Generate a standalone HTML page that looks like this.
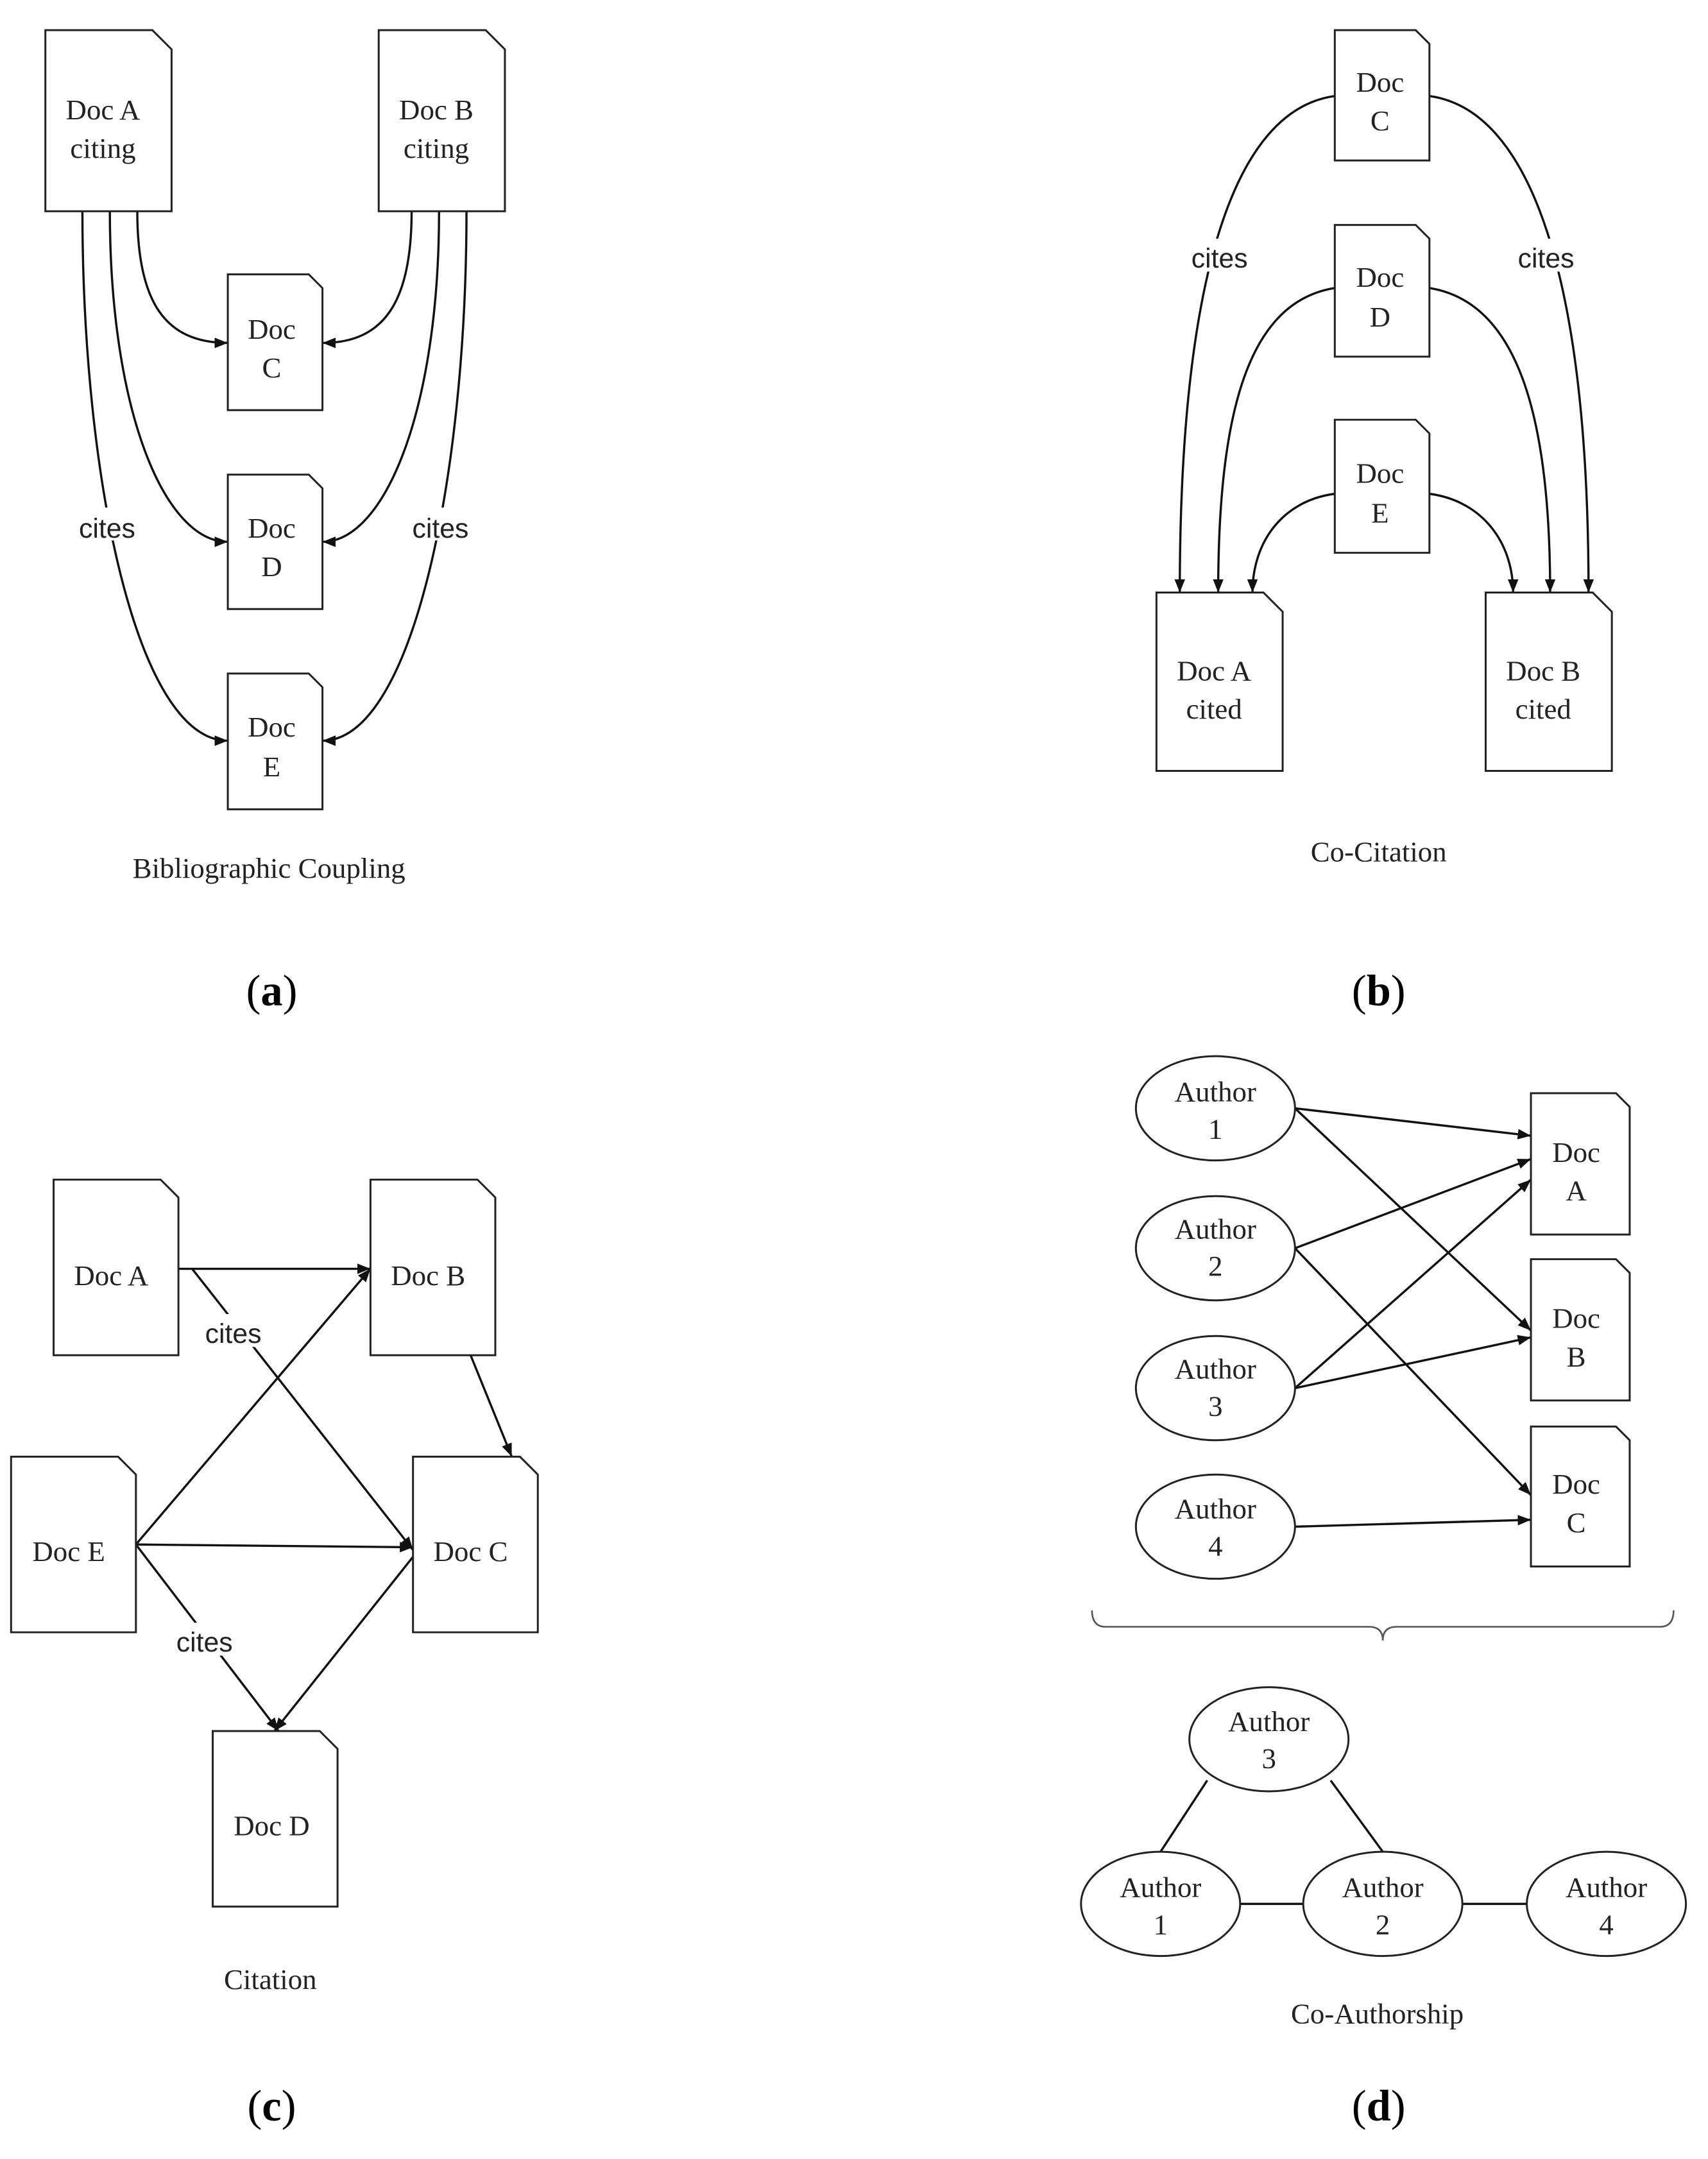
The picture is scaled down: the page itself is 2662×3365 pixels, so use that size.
<!DOCTYPE html>
<html><head><meta charset="utf-8"><style>
html,body{margin:0;padding:0;background:#fff;}
svg{display:block;}
.d{fill:#fff;stroke:#222;stroke-width:1.4;}
.l{fill:none;stroke:#111;stroke-width:1.6;}
.t{font-family:"Liberation Serif",serif;font-size:21px;fill:#222;text-anchor:middle;}
.s{font-family:"Liberation Sans",sans-serif;font-size:20px;fill:#222;text-anchor:middle;}
.c{font-family:"Liberation Serif",serif;font-size:32px;fill:#000;text-anchor:middle;}
</style></head><body>
<svg width="2662" height="3365" viewBox="0 0 1245 1574" xmlns="http://www.w3.org/2000/svg">
<defs><marker id="a" viewBox="0 0 10 10" refX="10" refY="5" markerWidth="6" markerHeight="6" orient="auto-start-reverse"><path d="M0,1 L10,5 L0,9 z" fill="#111"/></marker></defs>

<!-- (a) -->
<path class="l" marker-end="url(#a)" d="M100,154 C100,220 120,250 166,250"/>
<path class="l" marker-end="url(#a)" d="M80,154 C80,300 120,395 166,395"/>
<path class="l" marker-end="url(#a)" d="M60,154 C60,350 100,540 166,540"/>
<path class="l" marker-end="url(#a)" d="M300,154 C300,220 280,250 235,250"/>
<path class="l" marker-end="url(#a)" d="M320,154 C320,300 280,395 235,395"/>
<path class="l" marker-end="url(#a)" d="M340,154 C340,350 300,540 235,540"/>
<path class="d" d="M33,22 H111 L125,36 V154 H33 Z"/>
<text class="t" x="75" y="87">Doc A</text><text class="t" x="75" y="115">citing</text>
<path class="d" d="M276,22 H354 L368,36 V154 H276 Z"/>
<text class="t" x="318" y="87">Doc B</text><text class="t" x="318" y="115">citing</text>
<path class="d" d="M166,200 H225 L235,210 V299 H166 Z"/>
<text class="t" x="198" y="247">Doc</text><text class="t" x="198" y="275">C</text>
<path class="d" d="M166,346 H225 L235,356 V444 H166 Z"/>
<text class="t" x="198" y="392">Doc</text><text class="t" x="198" y="420">D</text>
<path class="d" d="M166,491 H225 L235,501 V590 H166 Z"/>
<text class="t" x="198" y="537">Doc</text><text class="t" x="198" y="566">E</text>
<rect x="55" y="370" width="46" height="24" fill="#fff"/><text class="s" x="78" y="392">cites</text>
<rect x="298" y="370" width="46" height="24" fill="#fff"/><text class="s" x="321" y="392">cites</text>
<text class="t" x="196" y="640">Bibliographic Coupling</text>
<text class="c" x="198" y="733">(<tspan font-weight="bold">a</tspan>)</text>

<!-- (b) -->
<path class="l" marker-end="url(#a)" d="M973,70 C900,80 860,200 860,432"/>
<path class="l" marker-end="url(#a)" d="M973,210 C910,220 888,300 888,432"/>
<path class="l" marker-end="url(#a)" d="M973,360 C935,365 913,395 913,432"/>
<path class="l" marker-end="url(#a)" d="M1042,70 C1115,80 1158,200 1158,432"/>
<path class="l" marker-end="url(#a)" d="M1042,210 C1105,220 1130,300 1130,432"/>
<path class="l" marker-end="url(#a)" d="M1042,360 C1080,365 1103,395 1103,432"/>
<path class="d" d="M973,22 H1032 L1042,32 V117 H973 Z"/>
<text class="t" x="1006" y="67">Doc</text><text class="t" x="1006" y="95">C</text>
<path class="d" d="M973,164 H1032 L1042,174 V260 H973 Z"/>
<text class="t" x="1006" y="209">Doc</text><text class="t" x="1006" y="238">D</text>
<path class="d" d="M973,306 H1032 L1042,316 V403 H973 Z"/>
<text class="t" x="1006" y="352">Doc</text><text class="t" x="1006" y="381">E</text>
<path class="d" d="M843,432 H921 L935,446 V562 H843 Z"/>
<text class="t" x="885" y="496">Doc A</text><text class="t" x="885" y="524">cited</text>
<path class="d" d="M1083,432 H1161 L1175,446 V562 H1083 Z"/>
<text class="t" x="1125" y="496">Doc B</text><text class="t" x="1125" y="524">cited</text>
<rect x="866" y="174" width="46" height="24" fill="#fff"/><text class="s" x="889" y="195">cites</text>
<rect x="1104" y="174" width="46" height="24" fill="#fff"/><text class="s" x="1127" y="195">cites</text>
<text class="t" x="1005" y="628">Co-Citation</text>
<text class="c" x="1005" y="733">(<tspan font-weight="bold">b</tspan>)</text>

<!-- (c) -->
<line class="l" marker-end="url(#a)" x1="130" y1="925" x2="270" y2="925"/>
<line class="l" marker-end="url(#a)" x1="140" y1="925" x2="301" y2="1130"/>
<line class="l" marker-end="url(#a)" x1="343" y1="988" x2="373" y2="1062"/>
<line class="l" marker-end="url(#a)" x1="99" y1="1126" x2="270" y2="925"/>
<line class="l" marker-end="url(#a)" x1="99" y1="1126" x2="301" y2="1128"/>
<line class="l" marker-end="url(#a)" x1="99" y1="1126" x2="203" y2="1262"/>
<line class="l" marker-end="url(#a)" x1="301" y1="1135" x2="200" y2="1262"/>
<path class="d" d="M39,860 H117 L130,873 V988 H39 Z"/>
<text class="t" x="81" y="937">Doc A</text>
<path class="d" d="M270,860 H348 L361,873 V988 H270 Z"/>
<text class="t" x="312" y="937">Doc B</text>
<path class="d" d="M8,1062 H86 L99,1075 V1190 H8 Z"/>
<text class="t" x="50" y="1138">Doc E</text>
<path class="d" d="M301,1062 H379 L392,1075 V1190 H301 Z"/>
<text class="t" x="343" y="1138">Doc C</text>
<path class="d" d="M155,1262 H233 L246,1275 V1390 H155 Z"/>
<text class="t" x="198" y="1338">Doc D</text>
<rect x="147" y="958" width="46" height="24" fill="#fff"/><text class="s" x="170" y="979">cites</text>
<rect x="126" y="1183" width="46" height="24" fill="#fff"/><text class="s" x="149" y="1204">cites</text>
<text class="t" x="197" y="1450">Citation</text>
<text class="c" x="198" y="1546">(<tspan font-weight="bold">c</tspan>)</text>

<!-- (d) -->
<line class="l" marker-end="url(#a)" x1="944" y1="808" x2="1116" y2="828"/>
<line class="l" marker-end="url(#a)" x1="944" y1="808" x2="1116" y2="970"/>
<line class="l" marker-end="url(#a)" x1="944" y1="910" x2="1116" y2="845"/>
<line class="l" marker-end="url(#a)" x1="944" y1="910" x2="1116" y2="1090"/>
<line class="l" marker-end="url(#a)" x1="944" y1="1012" x2="1116" y2="860"/>
<line class="l" marker-end="url(#a)" x1="944" y1="1012" x2="1116" y2="975"/>
<line class="l" marker-end="url(#a)" x1="944" y1="1113" x2="1116" y2="1108"/>
<g>
<ellipse class="d" cx="886" cy="808" rx="58" ry="38"/><text class="t" x="886" y="803">Author</text><text class="t" x="886" y="830">1</text>
<ellipse class="d" cx="886" cy="910" rx="58" ry="38"/><text class="t" x="886" y="903">Author</text><text class="t" x="886" y="930">2</text>
<ellipse class="d" cx="886" cy="1012" rx="58" ry="38"/><text class="t" x="886" y="1005">Author</text><text class="t" x="886" y="1032">3</text>
<ellipse class="d" cx="886" cy="1113" rx="58" ry="38"/><text class="t" x="886" y="1107">Author</text><text class="t" x="886" y="1134">4</text>
</g>
<path class="d" d="M1116,797 H1178 L1188,807 V900 H1116 Z"/>
<text class="t" x="1149" y="847">Doc</text><text class="t" x="1149" y="875">A</text>
<path class="d" d="M1116,918 H1178 L1188,928 V1021 H1116 Z"/>
<text class="t" x="1149" y="968">Doc</text><text class="t" x="1149" y="996">B</text>
<path class="d" d="M1116,1040 H1178 L1188,1050 V1142 H1116 Z"/>
<text class="t" x="1149" y="1089">Doc</text><text class="t" x="1149" y="1117">C</text>
<path fill="none" stroke="#555" stroke-width="1.2" d="M796,1174 Q796,1186 806,1186 H998 Q1008,1186 1008,1196 Q1008,1186 1018,1186 H1210 Q1220,1186 1220,1174"/>
<line class="l" x1="880" y1="1298" x2="846" y2="1350"/>
<line class="l" x1="970" y1="1298" x2="1008" y2="1350"/>
<line class="l" x1="904" y1="1388" x2="950" y2="1388"/>
<line class="l" x1="1066" y1="1388" x2="1113" y2="1388"/>
<ellipse class="d" cx="925" cy="1268" rx="58" ry="38"/><text class="t" x="925" y="1262">Author</text><text class="t" x="925" y="1289">3</text>
<ellipse class="d" cx="846" cy="1388" rx="58" ry="38"/><text class="t" x="846" y="1383">Author</text><text class="t" x="846" y="1410">1</text>
<ellipse class="d" cx="1008" cy="1388" rx="58" ry="38"/><text class="t" x="1008" y="1383">Author</text><text class="t" x="1008" y="1410">2</text>
<ellipse class="d" cx="1171" cy="1388" rx="58" ry="38"/><text class="t" x="1171" y="1383">Author</text><text class="t" x="1171" y="1410">4</text>
<text class="t" x="1004" y="1475">Co-Authorship</text>
<text class="c" x="1005" y="1546">(<tspan font-weight="bold">d</tspan>)</text>
</svg>
</body></html>
